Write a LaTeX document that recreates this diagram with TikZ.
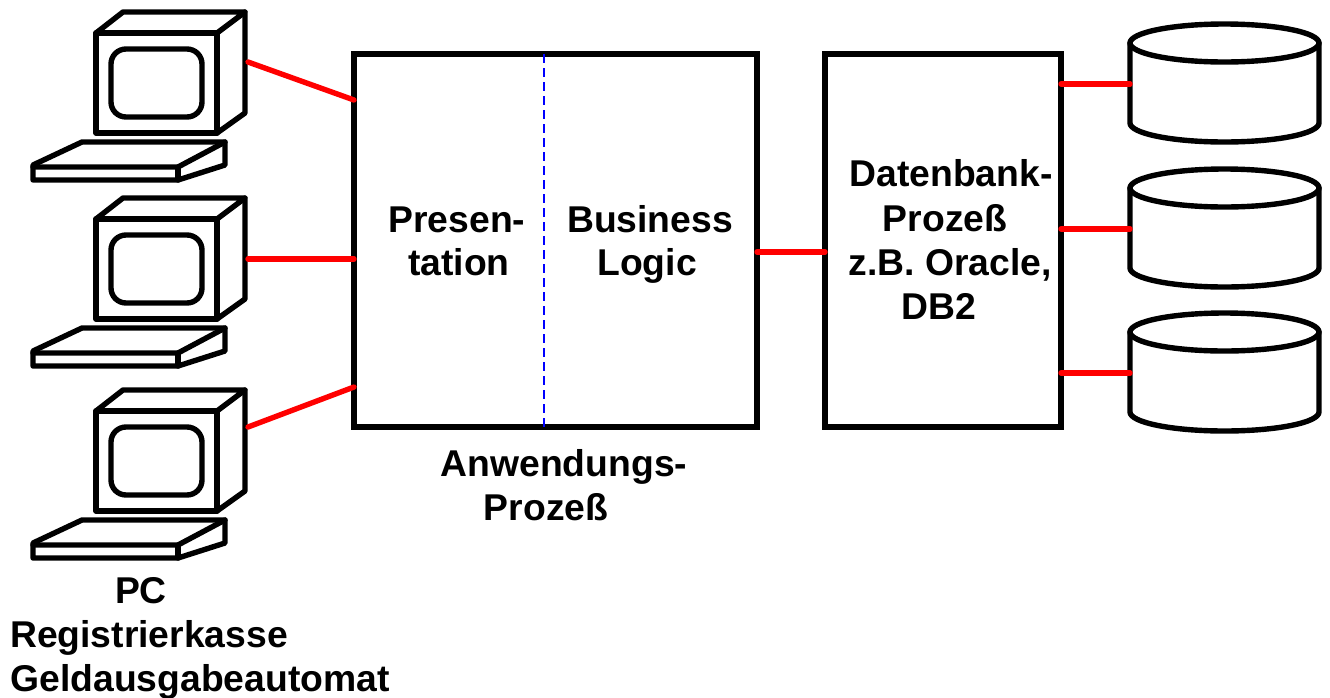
\documentclass[tikz,border=0pt]{standalone}
\usepackage{fontspec}
\setmainfont{Liberation Sans}
\definecolor{wire}{RGB}{255,0,0}
\definecolor{divider}{RGB}{0,0,255}
\tikzset{
  x=1pt,y=-1pt,
  ol/.style={line width=5.4pt,line join=round,line cap=round,draw=black},
  boxn/.style={draw=black,line width=5.4pt,fill=white,rectangle,inner sep=0pt,outer sep=0pt,anchor=north west},
  wirel/.style={draw=wire,line width=5.4pt,line cap=round},
  lab/.style={font=\fontsize{37.3}{44}\selectfont\bfseries,inner sep=0pt,anchor=base},
  pics/computer/.style={code={
    \draw[ol] (96,33) rectangle (217,133);
    \draw[ol] (96,33) -- (123,12) -- (245,12) -- (217,33);
    \draw[ol] (245,12) -- (245,113) -- (217,133);
    \draw[ol,rounded corners=15pt] (111,49) rectangle (202,117);
    \draw[ol] (33,165) -- (82,142) -- (225,142) -- (225,165) -- (178,180) -- (33,180) -- cycle;
    \draw[ol] (33,167) -- (178,167) -- (225,142);
    \draw[ol] (178,167) -- (178,180);
  }},
  pics/cyl/.style={code={
    \draw[ol] (1130,43) arc[start angle=180,end angle=-180,x radius=94.5,y radius=19];
    \draw[ol] (1130,43) -- (1130,123) arc[start angle=180,end angle=360,x radius=94.5,y radius=-19] -- (1319,43);
  }}
}
\begin{document}
\begin{tikzpicture}
\useasboundingbox (0,0) rectangle (1330,697);
\pic at (0,0) {computer};
\pic at (0,186) {computer};
\pic at (0,378) {computer};
\pic at (0,0) {cyl};
\pic at (0,145) {cyl};
\pic at (0,289) {cyl};
\node[boxn,minimum width=403pt,minimum height=373pt] (app) at (354,54) {};
\node[boxn,minimum width=236pt,minimum height=373pt] (db) at (825,54) {};
\draw[divider,line width=2pt,dash pattern=on 9pt off 5pt] (app.north west -| 544,0) -- (app.south west -| 544,0);
\coordinate (pcA) at (248,62);
\coordinate (pcB) at (248,259);
\coordinate (pcC) at (248,427);
\coordinate (cylA) at (1130,84);
\coordinate (cylB) at (1130,229);
\coordinate (cylC) at (1130,373);
\draw[wirel] (pcA) -- (app.west |- 0,100);
\draw[wirel] (pcB) -- (app.west |- 0,259);
\draw[wirel] (pcC) -- (app.west |- 0,387);
\draw[wirel] (app.east |- 0,252) -- (db.west |- 0,252);
\draw[wirel] (db.east |- cylA) -- (cylA);
\draw[wirel] (db.east |- cylB) -- (cylB);
\draw[wirel] (db.east |- cylC) -- (cylC);
\node[lab] (t1a) at (457,232) {Presen-};
\node[lab] (t1b) at (459,275) {tation};
\node[lab] (t2a) at (650,232) {Business};
\node[lab] (t2b) at (647,275) {Logic};
\node[lab] (t3a) at (951,186) {Datenbank-};
\node[lab] (t3b) at (945,231) {Prozeß};
\node[lab] (t3c) at (950,275) {z.B. Oracle,};
\node[lab] (t3d) at (939,319) {DB2};
\node[lab] (t4a) at (564,476) {Anwendungs-};
\node[lab] (t4b) at (546,520) {Prozeß};
\node[lab] (t5a) at (141,603) {PC};
\node[lab] (t5b) at (149,647) {Registrierkasse};
\node[lab] (t5c) at (200,691) {Geldausgabeautomat};
\end{tikzpicture}
\end{document}
